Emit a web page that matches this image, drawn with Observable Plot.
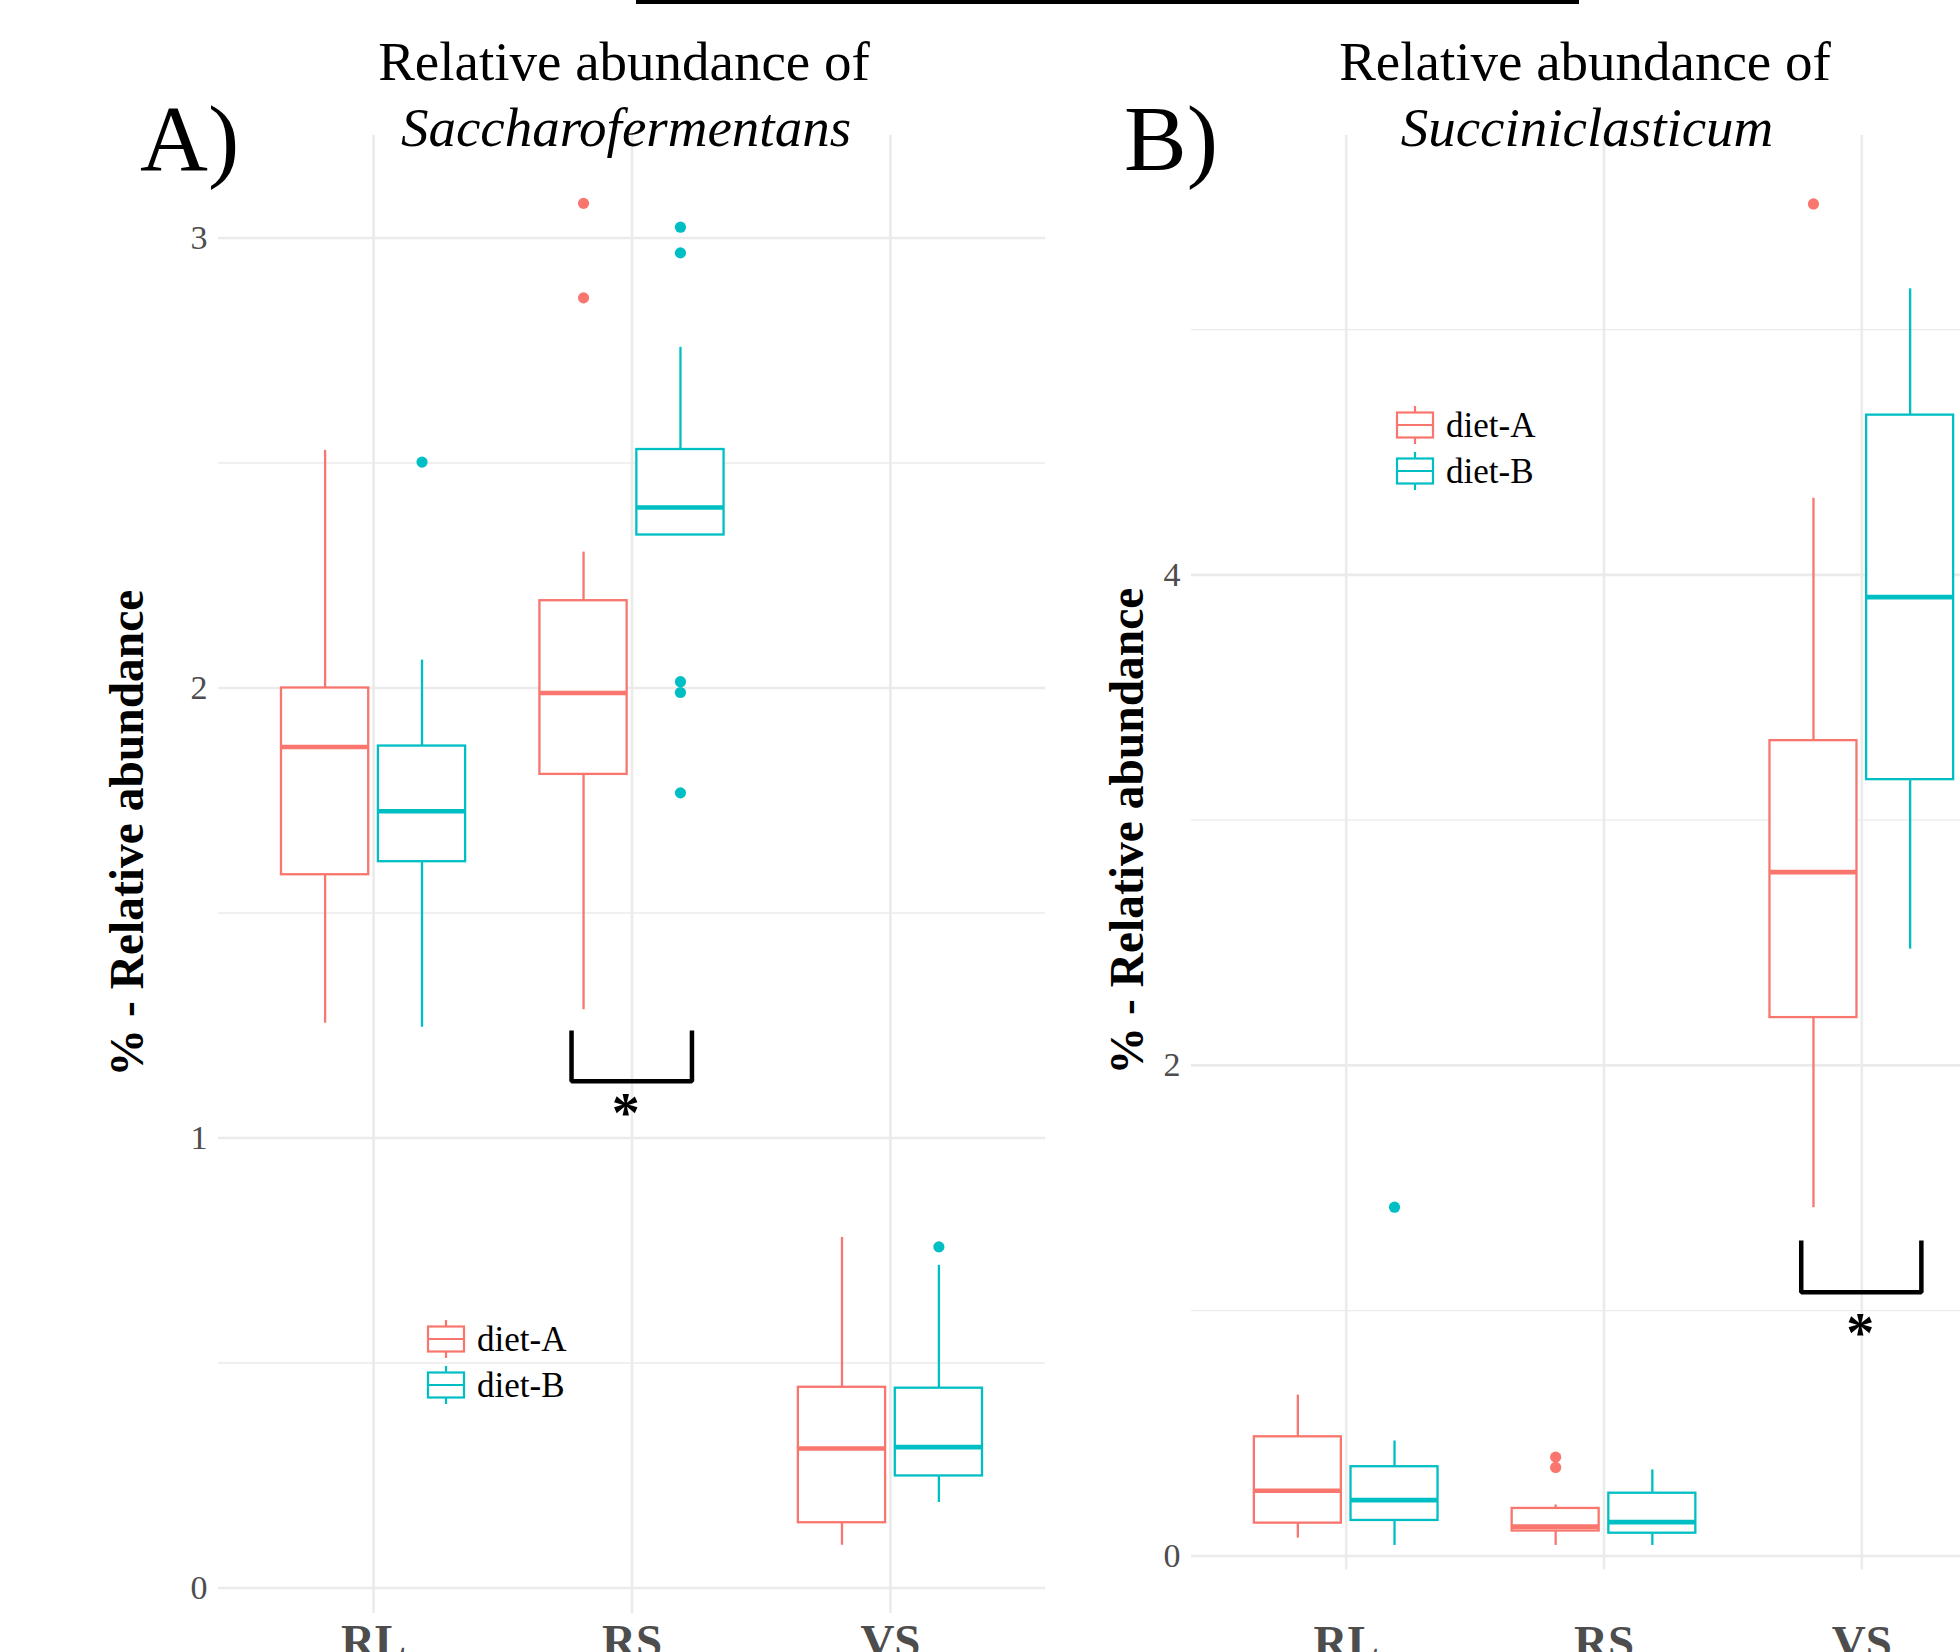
<!DOCTYPE html>
<html>
<head>
<meta charset="utf-8">
<script src="https://cdn.jsdelivr.net/npm/d3@7"></script>
<script src="https://cdn.jsdelivr.net/npm/@observablehq/plot@0.6"></script>
<style>
  html, body { margin: 0; padding: 0; background: white; }
  #stage { position: relative; width: 1960px; height: 1652px; overflow: hidden; background: white; font-family: "Liberation Serif", serif; }
</style>
</head>
<body>
<div id="stage"></div>
<script>
// ---------------- data ----------------
const categories = ["RL", "RS", "VS"];
const diets = ["diet-A", "diet-B"];
const dietColors = ["#F8766D", "#00BFC4"];

// Panel A: Saccharofermentans (groups in order RL/A, RL/B, RS/A, RS/B, VS/A, VS/B)
const saccWhiskerLow  = [1.255, 1.246, 1.285, 2.340, 0.095, 0.190];
const saccQ1          = [1.585, 1.614, 1.808, 2.340, 0.145, 0.249];
const saccMedian      = [1.869, 1.726, 1.989, 2.401, 0.310, 0.313];
const saccQ3          = [2.000, 1.871, 2.194, 2.530, 0.446, 0.444];
const saccWhiskerHigh = [2.528, 2.062, 2.302, 2.757, 0.779, 0.717];
const saccOutliers    = [[], [2.502], [3.077, 2.867], [3.024, 2.967, 2.014, 1.990, 1.767], [], [0.758]];
const saccMajorTicks  = [0, 1, 2, 3];
const saccMinorTicks  = [0.5, 1.5, 2.5];
const saccBracket     = {x1: 1.766, x2: 2.232, top: 1.239, bottom: 1.126, starX: 1.976, starY: 1.054};

// Panel B: Succiniclasticum
const succWhiskerLow  = [0.073, 0.043, 0.043, 0.043, 1.420, 2.474];
const succQ1          = [0.134, 0.145, 0.102, 0.093, 2.195, 3.165];
const succMedian      = [0.266, 0.228, 0.120, 0.138, 2.788, 3.909];
const succQ3          = [0.486, 0.364, 0.194, 0.256, 3.324, 4.651];
const succWhiskerHigh = [0.656, 0.469, 0.208, 0.351, 4.312, 5.166];
const succOutliers    = [[], [1.422], [0.403, 0.361], [], [5.512], []];
const succMajorTicks  = [0, 2, 4];
const succMinorTicks  = [1, 3, 5];
const succBracket     = {x1: 2.765, x2: 3.231, top: 1.286, bottom: 1.075, starX: 2.994, starY: 0.903};

const titleLine1 = "Relative abundance of";
const genusNames = ["Saccharofermentans", "Succiniclasticum"];
const panelTags = ["A)", "B)"];
const yTitle = "% - Relative abundance";

// ---------------- build ----------------
const DODGE = 0.1875, HALF = 0.16875;
const GRID = "#EBEBEB", AXIS_TXT = "#4D4D4D";

function buildRows(lo, q1, med, q3, hi, outs) {
  const rows = [], pts = [];
  categories.forEach((cat, ci) => {
    diets.forEach((diet, di) => {
      const k = ci * 2 + di;
      const xc = ci + 1 + (di === 0 ? -DODGE : DODGE);
      rows.push({cat, diet, xc, xl: xc - HALF, xr: xc + HALF,
                 lo: lo[k], q1: q1[k], med: med[k], q3: q3[k], hi: hi[k]});
      outs[k].forEach(v => pts.push({cat, diet, xc, v}));
    });
  });
  return {rows, pts};
}

function panel(cfg) {
  const {rows, pts} = buildRows(cfg.lo, cfg.q1, cfg.med, cfg.q3, cfg.hi, cfg.outs);
  const b = cfg.bracket;
  const bracketPts = [
    {x: b.x1, y: b.top}, {x: b.x1, y: b.bottom},
    {x: b.x2, y: b.bottom}, {x: b.x2, y: b.top}
  ];
  return Plot.plot({
    width: cfg.width, height: 1652,
    marginLeft: cfg.marginLeft, marginRight: 0,
    marginTop: 135, marginBottom: cfg.marginBottom,
    style: {background: "transparent", fontFamily: "Liberation Serif", overflow: "visible"},
    x: {type: "linear", domain: [0.4, 3.6], axis: null},
    y: {type: "linear", domain: cfg.yDomain, axis: null},
    color: {domain: diets, range: dietColors},
    marks: [
      Plot.ruleY(cfg.minor, {y: d => d, stroke: GRID, strokeWidth: 1.3}),
      Plot.ruleY(cfg.major, {y: d => d, stroke: GRID, strokeWidth: 2.6}),
      Plot.ruleX(categories, {x: (d, i) => i + 1, stroke: GRID, strokeWidth: 2.6}),
      Plot.text(cfg.major, {y: d => d, text: d => String(d), frameAnchor: "left", dx: -11,
        textAnchor: "end", fontSize: 34, fill: AXIS_TXT}),
      Plot.text(categories, {x: (d, i) => i + 1, text: d => d, frameAnchor: "bottom",
        dy: cfg.labelDy, lineAnchor: "top", fontSize: 47, fontWeight: "bold", fill: AXIS_TXT}),
      Plot.ruleX(rows, {x: "xc", y1: "q3", y2: "hi", stroke: "diet", strokeWidth: 2.3}),
      Plot.ruleX(rows, {x: "xc", y1: "lo", y2: "q1", stroke: "diet", strokeWidth: 2.3}),
      Plot.rect(rows, {x1: "xl", x2: "xr", y1: "q1", y2: "q3", fill: "white", stroke: "diet", strokeWidth: 2.3}),
      Plot.ruleY(rows, {y: "med", x1: "xl", x2: "xr", stroke: "diet", strokeWidth: 4.6}),
      Plot.dot(pts, {x: "xc", y: "v", r: 5.6, fill: "diet", stroke: null}),
      Plot.line(bracketPts, {x: "x", y: "y", stroke: "black", strokeWidth: 4.5,
        strokeLinejoin: "miter", strokeLinecap: "butt"}),
      Plot.text(["*"], {x: b.starX, y: b.starY, text: d => d, fontSize: 56, fontWeight: "bold", fill: "black"})
    ]
  });
}

const stage = document.getElementById("stage");

const plotA = panel({
  width: 1045, marginLeft: 218, marginBottom: 39, labelDy: 10,
  yDomain: [-0.0567, 3.2278],
  lo: saccWhiskerLow, q1: saccQ1, med: saccMedian, q3: saccQ3, hi: saccWhiskerHigh, outs: saccOutliers,
  major: saccMajorTicks, minor: saccMinorTicks, bracket: saccBracket
});
plotA.style.position = "absolute"; plotA.style.left = "0px"; plotA.style.top = "0px";
stage.appendChild(plotA);

const plotB = panel({
  width: 1016, marginLeft: 191, marginBottom: 82.5, labelDy: 54.5,
  yDomain: [-0.057, 5.791],
  lo: succWhiskerLow, q1: succQ1, med: succMedian, q3: succQ3, hi: succWhiskerHigh, outs: succOutliers,
  major: succMajorTicks, minor: succMinorTicks, bracket: succBracket
});
plotB.style.position = "absolute"; plotB.style.left = "1000px"; plotB.style.top = "0px";
stage.appendChild(plotB);

// ---------------- overlay: titles, tags, axis titles, legends ----------------
const ov = d3.select(stage).append("svg")
  .attr("width", 1960).attr("height", 1652)
  .style("position", "absolute").style("left", "0px").style("top", "0px")
  .style("pointer-events", "none")
  .attr("font-family", "Liberation Serif");

ov.append("rect").attr("x", 636).attr("y", 0).attr("width", 943).attr("height", 4).attr("fill", "black");

const layout = [
  {titleX: 624, tagX: 140, yTitleX: 143, yTitleY: 833, legX: 428, legY: 1339},
  {titleX: 1585, tagX: 1124, yTitleX: 1143, yTitleY: 831, legX: 1397, legY: 425}
];

layout.forEach((L, p) => {
  ov.append("text").attr("x", L.titleX).attr("y", 80).attr("font-size", 55)
    .attr("text-anchor", "middle").text(titleLine1);
  ov.append("text").attr("x", L.titleX + 2).attr("y", 146).attr("font-size", 55)
    .attr("font-style", "italic").attr("text-anchor", "middle").text(genusNames[p]);
  ov.append("text").attr("x", L.tagX).attr("y", 170).attr("font-size", 94).text(panelTags[p]);
  ov.append("text").attr("transform", `translate(${L.yTitleX},${L.yTitleY}) rotate(-90)`)
    .attr("font-size", 47.5).attr("font-weight", "bold").attr("text-anchor", "middle").text(yTitle);
  diets.forEach((d, i) => {
    const cy = L.legY + i * 46;
    const g = ov.append("g").attr("stroke", dietColors[i]).attr("stroke-width", 2.2).attr("fill", "none");
    g.append("line").attr("x1", L.legX + 18).attr("x2", L.legX + 18).attr("y1", cy - 19).attr("y2", cy + 19);
    g.append("rect").attr("x", L.legX).attr("y", cy - 12.5).attr("width", 36).attr("height", 25).attr("fill", "white");
    g.append("line").attr("x1", L.legX).attr("x2", L.legX + 36).attr("y1", cy).attr("y2", cy);
    ov.append("text").attr("x", L.legX + 49).attr("y", cy + 12).attr("font-size", 35).text(d);
  });
});
</script>
</body>
</html>
